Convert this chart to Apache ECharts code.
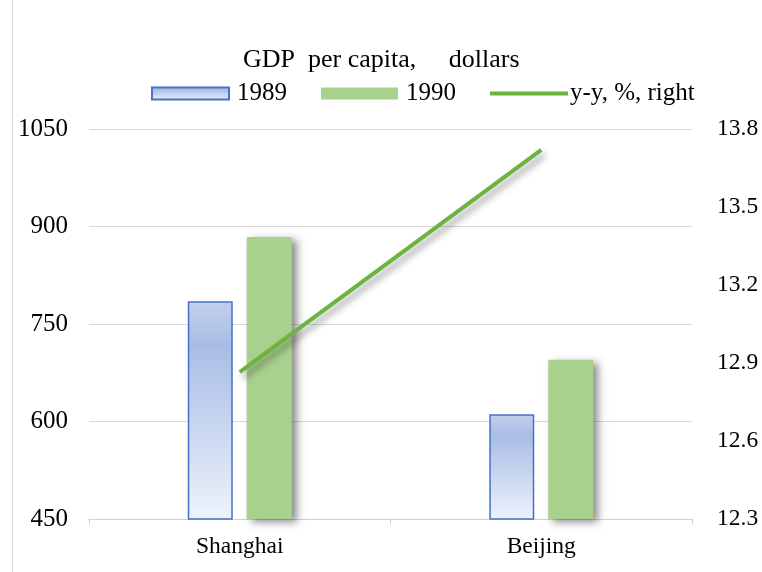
<!DOCTYPE html>
<html>
<head>
<meta charset="utf-8">
<script src="https://cdn.jsdelivr.net/npm/echarts@6/dist/echarts.min.js"></script>
<style>
  html, body { margin: 0; padding: 0; background: #fff; }
  #main { width: 762px; height: 572px; }
</style>
</head>
<body>
<div id="main"></div>
<script>
// data
const cities = ['Shanghai', 'Beijing'];
const gdp1989 = [785, 611];
const gdp1990 = [884, 695];
const yoy = [12.865, 13.72];

const font = 'Liberation Serif';
const legendText = { fontFamily: font, fontSize: 25, color: '#000', padding: [0, 0, 0, 3] };

let chart = echarts.init(document.getElementById('main'));
let option = {
    backgroundColor: '#fff',
    animation: false,
    title: {
        text: 'GDP  per capita,     dollars',
        left: 238,
        top: 42,
        textStyle: { fontFamily: font, fontSize: 26, fontWeight: 'normal', color: '#000' }
    },
    // three legends so each item sits where the original has it
    legend: [{
        left: 146, top: 76,
        icon: 'rect',
        itemWidth: 77, itemHeight: 12,
        textStyle: legendText,
        data: ['1989']
    }, {
        left: 316, top: 76,
        icon: 'rect',
        itemWidth: 77, itemHeight: 12,
        textStyle: legendText,
        data: ['1990']
    }, {
        left: 485, top: 76,
        icon: 'rect',
        itemWidth: 78, itemHeight: 4,
        textStyle: { fontFamily: font, fontSize: 25, color: '#000', padding: [0, 0, 0, -3] },
        data: ['y-y, %, right']
    }],
    grid: { left: 89, right: 70, top: 129, bottom: 53 },
    xAxis: {
        type: 'category',
        data: cities,
        axisLine: { lineStyle: { color: '#c5d2ec', width: 1 } },
        axisTick: { show: true, length: 5, lineStyle: { color: '#c5d2ec' } },
        axisLabel: { fontFamily: font, fontSize: 23.5, color: '#000', margin: 16 }
    },
    yAxis: [{
        type: 'value',
        min: 450, max: 1050, interval: 150,
        axisLine: { show: false },
        axisTick: { show: false },
        splitLine: { lineStyle: { color: '#d9d9d9' } },
        axisLabel: { fontFamily: font, fontSize: 25, color: '#000', margin: 21,
            formatter: v => String(v) }
    }, {
        type: 'value',
        min: 12.3, max: 13.8, interval: 0.3,
        axisLine: { show: false },
        axisTick: { show: false },
        splitLine: { show: false },
        axisLabel: { fontFamily: font, fontSize: 23.5, color: '#000', margin: 25,
            formatter: v => v.toFixed(1) }
    }],
    series: [{
        name: '1989',
        type: 'bar',
        data: gdp1989,
        barWidth: 45,
        barGap: '31%',
        itemStyle: {
            borderColor: '#4472c4',
            borderWidth: 1.5,
            color: new echarts.graphic.LinearGradient(0, 0, 0, 1, [
                { offset: 0, color: '#c3d0ec' },
                { offset: 0.2, color: '#a8bde6' },
                { offset: 1, color: '#eef2fb' }
            ])
        }
    }, {
        name: '1990',
        type: 'bar',
        data: gdp1990,
        barWidth: 45,
        itemStyle: {
            color: '#a9d18e',
            shadowColor: 'rgba(0,0,0,0.45)',
            shadowBlur: 8,
            shadowOffsetX: 5,
            shadowOffsetY: 3
        }
    }, {
        name: 'y-y, %, right',
        type: 'line',
        yAxisIndex: 1,
        data: yoy,
        symbol: 'none',
        lineStyle: {
            color: '#6cb33f',
            width: 4,
            shadowColor: 'rgba(0,0,0,0.4)',
            shadowBlur: 7,
            shadowOffsetX: 3,
            shadowOffsetY: 5
        },
        itemStyle: { color: '#6cb33f' }
    }],
    graphic: [{
        type: 'line',
        shape: { x1: 12.5, y1: 0, x2: 12.5, y2: 572 },
        style: { stroke: '#d9d9d9', lineWidth: 1 }
    }]
};
chart.setOption(option);
</script>
</body>
</html>
